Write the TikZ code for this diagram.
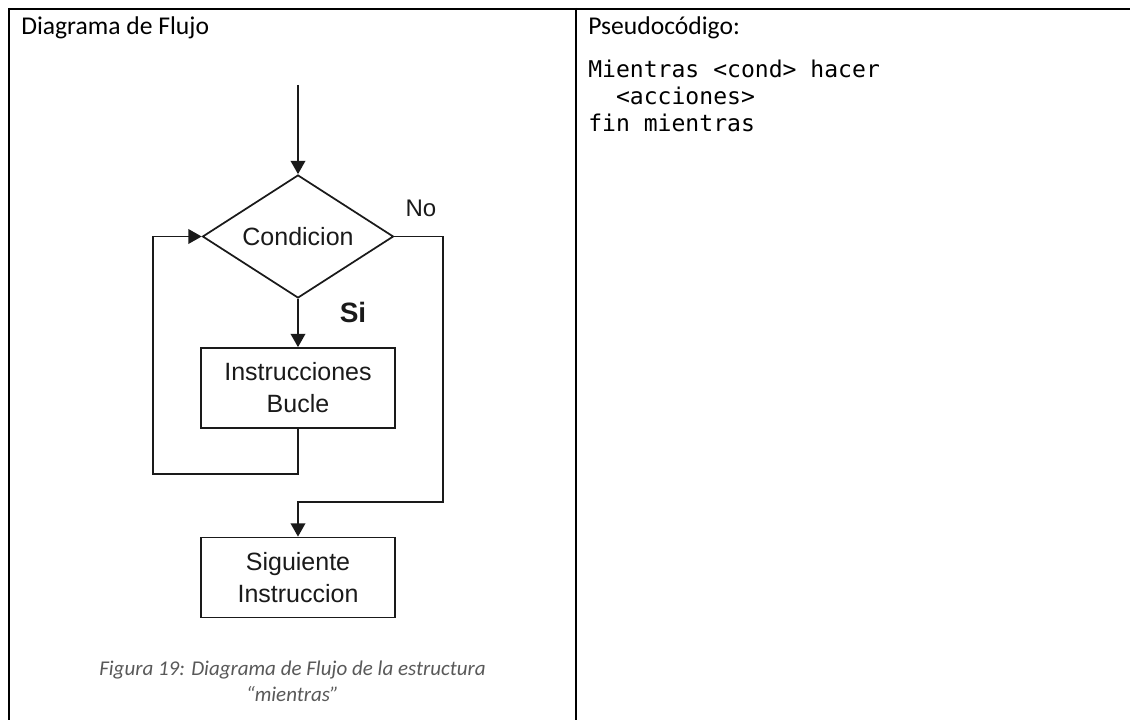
\documentclass[tikz,border=0pt]{standalone}
\usepackage{fontspec}
\setmainfont{Carlito}
\setmonofont{DejaVu Sans Mono}
\newfontfamily\flowfont{Liberation Sans}
\usetikzlibrary{shapes.geometric,arrows.meta}
\definecolor{capgray}{HTML}{595959}
\definecolor{ink}{HTML}{1A1A1A}
\begin{document}
\begin{tikzpicture}[x=0.75pt,y=-0.75pt,
  tableline/.style={line width=1.5pt,black},
  flowline/.style={line width=1.3pt,draw=ink},
  flowarrow/.style={flowline,-{Triangle[width=11pt,length=10pt]}},
  flowbox/.style={draw=ink,line width=1.3pt,rectangle,minimum width=145.5pt,minimum height=60pt,inner sep=0pt,align=center,font=\flowfont\fontsize{18.75}{24}\selectfont,text=ink},
  decision/.style={draw=ink,line width=1.3pt,diamond,aspect=1.55,minimum width=143.25pt,minimum height=92.25pt,inner sep=0pt,font=\flowfont\fontsize{18.75}{22}\selectfont,text=ink},
  flowlabel/.style={inner sep=0pt,text=ink},
  celltext/.style={anchor=base west,inner sep=0pt,font=\fontsize{19.2}{23}\selectfont},
  codetext/.style={anchor=base west,inner sep=0pt,font=\ttfamily\fontsize{17.3}{20}\selectfont},
  captiontext/.style={anchor=base,inner sep=0pt,text=capgray,font=\itshape\fontsize{15.75}{19}\selectfont}]
\useasboundingbox (0,0) rectangle (1130,720);
\fill[white] (0,0) rectangle (1130,720);
% table
\draw[tableline] (8,9) -- (1130,9);
\draw[tableline] (9,8) -- (9,720);
\draw[tableline] (576,8) -- (576,720);
% cell texts
\node[celltext] (h1) at (21,35) {Diagrama de Flujo};
\node[celltext] (h2) at (588,35) {Pseudocódigo:};
\node[codetext] (c1) at (588,78) {Mientras <cond> hacer};
\node[codetext] (c2) at (588,105) {\hphantom{xx}<acciones>};
\node[codetext] (c3) at (588,132) {fin mientras};
\node[captiontext] (cap1) at (292.5,675) {Figura 19: Diagrama de Flujo de la estructura};
\node[captiontext] (cap2) at (292.5,701) {“mientras”};
% flowchart
\node[decision] (cond) at (298,236.5) {Condicion};
\node[flowbox] (loop) at (298,388) {Instrucciones\\Bucle};
\node[flowbox] (next) at (298,577.5) {Siguiente\\Instruccion};
\coordinate (entry) at (298,85);
\coordinate (lb) at (153,474);
\coordinate (nr) at (443,502);
\node[flowlabel,font=\flowfont\fontsize{18}{20}\selectfont] (no) at (421,208) {No};
\node[flowlabel,font=\flowfont\bfseries\fontsize{21}{24}\selectfont] (si) at (353,312) {Si};
\draw[flowarrow] (entry) -- (cond.north);
\draw[flowarrow] (cond.south) -- (loop.north);
\draw[flowarrow] (loop.south) |- (lb) |- (cond.west);
\draw[flowarrow] (cond.east) -| (nr) -| (next.north);
\end{tikzpicture}
\end{document}
